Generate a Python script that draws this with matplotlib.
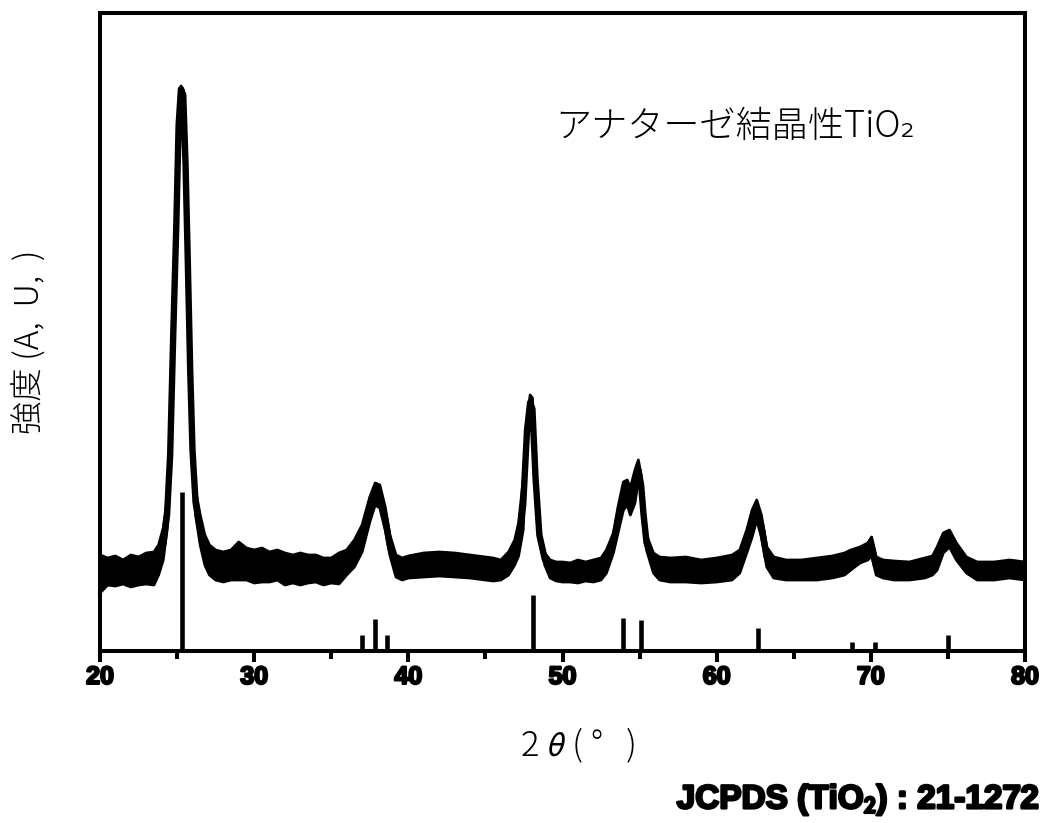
#!/usr/bin/env python3
"""XRD pattern of anatase TiO2 with JCPDS 21-1272 reference sticks -> out.png"""
import numpy as np
import matplotlib.pyplot as plt
import matplotlib.patheffects as pe

two_theta = [20.0, 20.5, 21.0, 21.5, 22.0, 22.5, 23.0, 23.5, 23.8, 24.1,
             24.35, 24.55, 24.75, 24.95, 25.1, 25.25, 25.4, 25.55, 25.7, 25.85,
             26.0, 26.2, 26.5, 26.8, 27.1, 27.5, 28.0, 28.5, 29.0, 29.5,
             30.0, 30.5, 31.0, 31.5, 32.0, 32.5, 33.0, 33.5, 34.0, 34.5,
             35.0, 35.5, 36.0, 36.5, 37.0, 37.5, 37.85, 38.15, 38.5, 38.8,
             39.2, 39.6, 40.0, 41.0, 42.0, 43.0, 44.0, 45.0, 45.5, 46.0,
             46.5, 46.9, 47.15, 47.45, 47.7, 47.9, 48.05, 48.25, 48.5, 48.85,
             49.2, 49.6, 50.0, 50.5, 51.0, 51.5, 52.0, 52.5, 52.85, 53.3,
             53.6, 53.95, 54.2, 54.4, 54.7, 54.92, 55.1, 55.25, 55.45, 55.9,
             56.3, 57.0, 58.0, 59.0, 60.0, 61.0, 61.5, 61.95, 62.3, 62.6,
             62.9, 63.25, 63.7, 64.5, 65.5, 66.5, 67.5, 68.3, 68.7, 69.3,
             69.8, 70.05, 70.35, 70.8, 71.5, 72.5, 73.5, 74.0, 74.3, 74.7,
             75.1, 75.55, 76.2, 76.9, 78.0, 79.0, 80.0]
upper = [96, 93, 95, 91, 96, 94, 98, 99, 106, 123,
         151, 211, 321, 431, 531, 565, 561, 491, 391, 291,
         211, 161, 136, 116, 106, 101, 99, 101, 109, 103,
         101, 103, 99, 101, 98, 96, 98, 96, 96, 93,
         93, 98, 101, 111, 126, 154, 168, 166, 144, 116,
         96, 93, 95, 98, 99, 98, 96, 94, 93, 91,
         99, 111, 128, 171, 231, 256, 253, 181, 121, 98,
         91, 89, 89, 88, 91, 89, 91, 93, 101, 118,
         144, 169, 171, 163, 181, 191, 176, 151, 116, 98,
         94, 93, 94, 91, 93, 96, 101, 121, 141, 151,
         136, 104, 94, 91, 91, 93, 95, 98, 101, 104,
         108, 114, 94, 91, 90, 89, 93, 95, 104, 118,
         121, 108, 94, 89, 89, 91, 89]
lower = [58, 66, 65, 67, 64, 66, 67, 66, 76, 91,
         121, 181, 311, 421, 521, 559, 551, 481, 381, 271,
         191, 136, 106, 86, 76, 71, 69, 71, 71, 71,
         68, 69, 69, 71, 66, 68, 66, 68, 69, 66,
         68, 67, 76, 84, 99, 129, 146, 143, 121, 96,
         74, 71, 73, 74, 75, 74, 73, 71, 70, 71,
         76, 86, 95, 121, 211, 241, 231, 166, 111, 86,
         73, 70, 69, 69, 68, 70, 69, 71, 78, 98,
         118, 141, 146, 136, 148, 171, 156, 124, 101, 78,
         71, 69, 69, 68, 69, 71, 78, 98, 114, 131,
         114, 84, 73, 71, 71, 71, 73, 76, 81, 88,
         91, 95, 76, 73, 71, 71, 73, 76, 81, 98,
         104, 91, 78, 71, 71, 73, 71]

# JCPDS 21-1272 reference lines
stick_pos = [25.35, 37.0, 37.85, 38.6, 48.1, 53.9, 55.06, 62.7, 68.75, 70.3, 75.0]
stick_h = [159, 16, 32, 16, 56, 33, 31, 23, 9, 9, 16]

x_ticks = [20, 30, 40, 50, 60, 70, 80]
x_minor = [25, 35, 45, 55, 65, 75]

plt.rcParams['font.family'] = ['Noto Sans CJK JP', 'DejaVu Sans']
plt.rcParams['mathtext.fontset'] = 'stixsans'

fig = plt.figure(figsize=(10.47, 8.23), dpi=100)
ax = fig.add_axes([100 / 1047, 1 - 651 / 823, 925 / 1047, 638 / 823])

up = np.array(upper)
lo = np.array(lower)
ax.fill_between(two_theta, lo, up, color='black', lw=0)
ax.plot(two_theta, (up + lo) / 2, color='black', lw=4.6)
ax.plot(two_theta, up, color='black', lw=2.0)
ax.plot(two_theta, lo, color='black', lw=2.0)

ax.vlines(stick_pos, 0, stick_h, color='black', lw=3.3)

ax.set_xlim(20, 80)
ax.set_ylim(0, 638)
ax.set_xticks(x_ticks)
ax.set_xticks(x_minor, minor=True)
ax.set_yticks([])
for s in ax.spines.values():
    s.set_linewidth(2.9)
ax.tick_params(axis='x', which='major', direction='out', length=8, width=2.9, pad=2)
ax.tick_params(axis='x', which='minor', direction='out', length=6, width=2.9)

stroke = [pe.withStroke(linewidth=1.6, foreground='black')]
for lab in ax.get_xticklabels():
    lab.set_fontfamily('Liberation Sans')
    lab.set_fontweight('bold')
    lab.set_fontsize(18)
    lab.set_path_effects(stroke)

fig.text(578 / 1047, 1 - 745 / 823, '2 $\\theta$ ( °   )', ha='center', va='center',
         fontsize=25, fontweight='light')
fig.text(30 / 1047, 1 - 342 / 823, '強度 (A,  U,  )', ha='center', va='center',
         rotation=90, fontsize=24, fontweight='light')
fig.text(555 / 1047, 1 - 127 / 823, 'アナターゼ結晶性TiO₂', ha='left', va='center',
         fontsize=26, fontweight='light')
fig.text(1040 / 1047, 1 - 800 / 823, 'JCPDS (TiO$_\\mathbf{2}$) : 21-1272', ha='right',
         va='center', fontsize=24, fontweight='bold', family='Liberation Sans',
         path_effects=[pe.withStroke(linewidth=1.8, foreground='black')])

fig.savefig('out.png', dpi=100)
